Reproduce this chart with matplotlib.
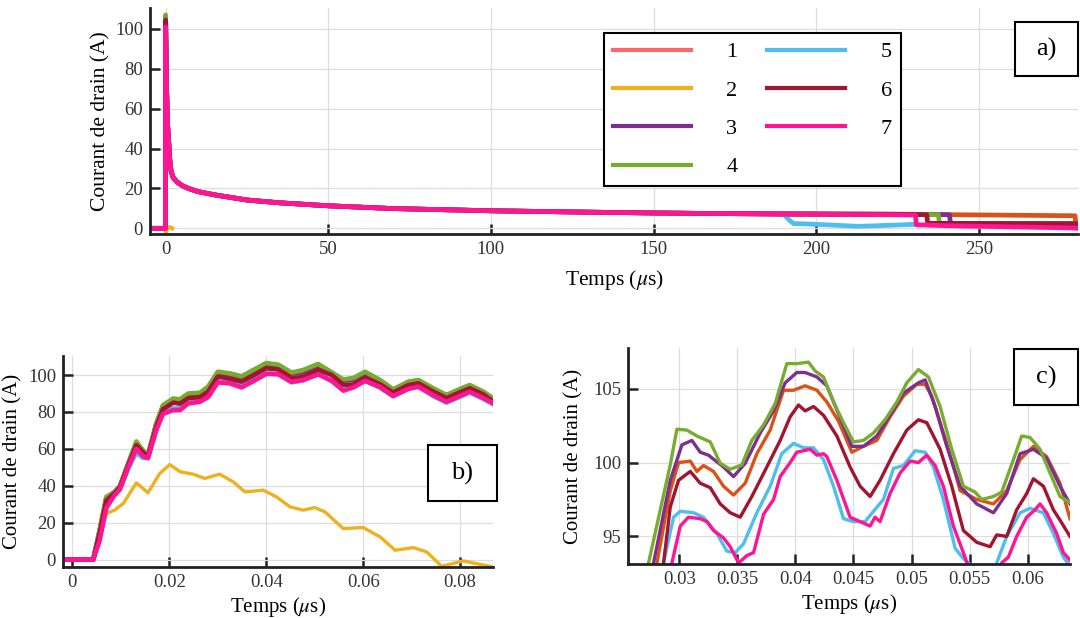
import matplotlib.pyplot as plt
from matplotlib.lines import Line2D
from matplotlib.patches import Rectangle

plt.rcParams['font.family'] = ['Liberation Serif', 'DejaVu Serif']
plt.rcParams['mathtext.fontset'] = 'stix'

names = ['1', '2', '3', '4', '5', '6', '7']
colors = ['#D95319', '#EDB120', '#7E2F8E', '#77AC30', '#4DBEEE', '#A2142F', '#FF1493']
legend_colors = ['#FF6666', '#EDB120', '#7E2F8E', '#77AC30', '#4DBEEE', '#A2142F', '#FF1493']

# ---- a) long pulse, shared decay (us, A) ----
t_a = [-5, -0.05, 0, 0.3, 0.6, 1.0, 1.3, 1.7, 2.3, 3.4, 5, 7, 10, 15, 20, 25, 35, 50, 70, 100, 130, 150, 170, 190]
i_a = [0, 0, 104, 70, 52, 42, 34, 28.5, 25.5, 23.4, 21.5, 20, 18.4, 16.8, 15.5, 14.2, 12.8, 11.3, 9.9, 8.8, 8.1, 7.7, 7.4, 7.2]
peak_a = [104, 0, 105.5, 107, 103, 104.5, 101]

t2_a = [-5, -0.05, 0.1, 0.4, 1.0, 1.6, 2.0]
i2_a = [0, 0, -2.5, 0.3, 0.6, 0.4, 0]

tail1_t = [230, 279.6, 279.9, 282]
tail1_i = [7.0, 6.3, 0, 0]
tail3_t = [230, 241, 241.3, 282]
tail3_i = [7.0, 6.8, 2.5, 2.3]
tail4_t = [230, 237.6, 237.9, 282]
tail4_i = [7.0, 6.8, 2.5, 2.3]
tail5_t = [191.5, 193, 200, 213, 222, 230.5]
tail5_i = [4.5, 2.4, 2.0, 1.0, 1.5, 2.0]
tail6_t = [230, 234, 234.3, 282]
tail6_i = [7.0, 6.8, 2.5, 2.3]
tail7_t = [230.5, 230.8, 240, 282]
tail7_i = [6.7, 1.8, 1.3, 0.1]

# ---- b) turn-on, first 90 ns ----
t_b = [-0.002, 0.0043, 0.0056, 0.007, 0.0087, 0.0098, 0.0115, 0.0132, 0.0146, 0.0156,
       0.0173, 0.0187, 0.0208, 0.0222, 0.0239, 0.0263, 0.028, 0.030, 0.0325, 0.0349,
       0.0373, 0.040, 0.0425, 0.0452, 0.0476, 0.0507, 0.0535, 0.0559, 0.058, 0.0604,
       0.0635, 0.0662, 0.0693, 0.0714, 0.0745, 0.0772, 0.0803, 0.082, 0.0848, 0.0869]
b1 = [0, 0, 15, 33, 36.5, 39.5, 51.5, 63, 58.5, 56.3, 73, 83, 86.5, 86, 89, 89.5, 92.5, 100, 99.6, 97.9,
      101, 105.1, 104.4, 100.8, 101.2, 105.3, 101, 97.3, 97.6, 101, 96.8, 91.8, 95.8, 96.8, 92.3, 88.8, 92.3, 94, 90.5, 86.5]
b3 = [0, 0, 15.5, 33.5, 36.5, 39.8, 51.8, 63.5, 58.8, 56.5, 73.4, 83.3, 86.8, 86.5, 89.5, 90, 93, 101.2, 100.6, 99.1,
      101.9, 106.1, 105.3, 101.1, 101.5, 105.5, 101.2, 97.2, 97.4, 100.8, 97, 92, 96, 97, 92.5, 89, 92.5, 94.2, 90.8, 87]
b4 = [0, 0, 16, 34, 36.7, 40, 52, 64, 59, 56.6, 73.8, 83.7, 87.3, 86.8, 90, 90.4, 93.7, 101.8, 100.9, 99.3,
      102.7, 106.5, 105.6, 101.3, 102.7, 106.0, 101.5, 97.6, 98.4, 101.8, 97.3, 92.2, 96.4, 97.3, 92.8, 89.2, 92.8, 94.6, 91, 87.3]
b5 = [0, 0, 14, 30, 35, 38, 49, 58, 55, 55, 71, 80, 82, 82, 85, 86, 89, 96.6, 95.8, 94.0,
      97.5, 101.2, 100.2, 96.0, 97.0, 100.8, 96.5, 92.5, 94.8, 96.9, 93, 88.5, 92.5, 93.5, 88.5, 85, 88.5, 90.5, 87, 84]
b6 = [0, 0, 14, 32, 36, 39, 51, 62, 58, 56, 72, 81.5, 85, 84.5, 87.5, 88, 91, 99.2, 98.0, 96.4,
      99.7, 103.7, 103.0, 98.5, 98.8, 102.9, 100.0, 94.8, 94.8, 98.5, 95, 90.5, 94.5, 95.5, 91, 87.5, 91, 92.8, 89.5, 85.5]
b7 = [0, 0, 10, 28, 35, 38, 50, 60, 56, 55, 70, 79, 81, 81, 84.6, 85.5, 88, 96.0, 95.5, 93.3,
      96.6, 100.6, 100.5, 96.3, 97.3, 100.3, 97.0, 91.5, 93.3, 96.8, 93.5, 88.6, 92.5, 93.7, 89, 85.5, 89, 91, 87.5, 84.6]
t2_b = [-0.002, 0.0043, 0.0056, 0.007, 0.0087, 0.0105, 0.0132, 0.0156, 0.018, 0.0201,
        0.0222, 0.0249, 0.0273, 0.0304, 0.0332, 0.0356, 0.0394, 0.0421, 0.0449, 0.0476,
        0.05, 0.0521, 0.0559, 0.06, 0.0635, 0.0666, 0.0704, 0.0731, 0.0762, 0.0807, 0.0834, 0.0869]
b2 = [0, 0, 14, 25, 26.8, 30.4, 41.6, 36.2, 46.6, 51.5, 47.6, 46.3, 44, 46.3, 42.1, 36.7,
      37.6, 34, 28.6, 26.8, 28.2, 25.9, 16.8, 17.4, 12.3, 5.1, 6.5, 4.2, -3.6, -0.7, -2.2, -4]

# ---- c) zoom on the plateau ----
c1_t = [0.0278, 0.02808, 0.02923, 0.02994, 0.03095, 0.03152, 0.03209, 0.03295, 0.03381, 0.03467,
        0.03568, 0.03668, 0.03783, 0.03898, 0.03984, 0.04084, 0.04185, 0.04271, 0.04371, 0.04486,
        0.04586, 0.04701, 0.04815, 0.04930, 0.05045, 0.05117, 0.05174, 0.05303, 0.05418, 0.05561,
        0.05705, 0.05819, 0.05934, 0.06049, 0.06163, 0.06278, 0.06364]
c1_i = [92.0, 93.2, 98.1, 100.0, 100.1, 99.4, 99.8, 99.4, 98.4, 97.8, 98.6, 100.6, 102.2, 104.9, 104.9, 105.2,
        104.9, 104.1, 102.8, 100.7, 101.1, 101.5, 103.1, 104.5, 105.3, 105.3, 104.5, 101.3, 98.1, 97.5,
        97.2, 98.1, 100.2, 101.1, 100.4, 98.6, 96.2]
c3_t = [0.0274, 0.02779, 0.02923, 0.03023, 0.03109, 0.03181, 0.03252, 0.03381, 0.03467, 0.03568,
        0.03697, 0.03812, 0.03912, 0.04012, 0.04084, 0.04185, 0.04271, 0.04371, 0.04486, 0.04586,
        0.04701, 0.04815, 0.04930, 0.05059, 0.05117, 0.05203, 0.05303, 0.05418, 0.05561, 0.05705,
        0.05819, 0.05934, 0.06049, 0.06163, 0.06278, 0.06364]
c3_i = [92.0, 93.2, 98.8, 101.2, 101.5, 100.7, 100.5, 99.7, 99.05, 99.95, 102.0, 103.5, 105.4, 106.1, 106.1,
        105.8, 105.2, 103.3, 101.1, 101.1, 101.8, 103.2, 104.7, 105.4, 105.6, 103.8, 101.1, 98.4, 97.2, 96.6,
        97.9, 100.6, 100.9, 100.3, 98.4, 97.2]
c4_t = [0.0270, 0.02736, 0.02837, 0.02923, 0.02980, 0.03066, 0.03152, 0.03267, 0.03353, 0.03439,
        0.03539, 0.03625, 0.03726, 0.03826, 0.03926, 0.04012, 0.04113, 0.04170, 0.04242, 0.04328,
        0.04414, 0.04500, 0.04586, 0.04672, 0.04772, 0.04873, 0.04959, 0.05059, 0.05145, 0.05246,
        0.05346, 0.05446, 0.05547, 0.05604, 0.05705, 0.05776, 0.05877, 0.05948, 0.06020, 0.06106,
        0.06192, 0.06278, 0.06364]
c4_i = [92.0, 93.2, 96.8, 99.85, 102.26, 102.2, 101.8, 101.4, 99.95, 99.55, 99.84, 101.5, 102.55, 104.0,
        106.7, 106.7, 106.8, 106.2, 105.8, 104.1, 102.7, 101.4, 101.5, 102.0, 102.9, 104.1, 105.4, 106.3,
        105.8, 103.8, 100.9, 98.4, 98.0, 97.5, 97.7, 98.0, 100.2, 101.8, 101.7, 100.9, 99.3, 97.7, 97.3]
c5_t = [0.0283, 0.02865, 0.02951, 0.03009, 0.03123, 0.03209, 0.03324, 0.03410, 0.03482, 0.03554,
        0.03668, 0.03783, 0.03883, 0.03984, 0.04070, 0.04156, 0.04242, 0.04328, 0.04414, 0.04500,
        0.04600, 0.04672, 0.04758, 0.04844, 0.04930, 0.05031, 0.05117, 0.05188, 0.05274, 0.05375,
        0.05446, 0.05504, 0.05560, 0.05700, 0.05733, 0.05819, 0.05934, 0.06020, 0.06135, 0.06221,
        0.06307, 0.06364]
c5_i = [92.0, 93.2, 96.3, 96.7, 96.6, 96.3, 95.2, 94.0, 93.9, 94.5, 96.6, 98.4, 100.6, 101.3, 101.0, 101.0,
        100.2, 98.4, 96.2, 96.0, 96.0, 96.7, 97.5, 99.6, 99.8, 100.8, 100.7, 99.7, 97.5, 94.2, 93.5, 93.1,
        92.0, 92.0, 93.2, 95.0, 96.6, 96.9, 96.6, 95.2, 93.6, 93.0]
c6_t = [0.0283, 0.02865, 0.02923, 0.02994, 0.03095, 0.03181, 0.03267, 0.03353, 0.03439, 0.03525,
        0.03625, 0.03754, 0.03869, 0.03955, 0.04027, 0.04084, 0.04156, 0.04242, 0.04357, 0.04471,
        0.04557, 0.04643, 0.04729, 0.04844, 0.04959, 0.05059, 0.05131, 0.05246, 0.05346, 0.05446,
        0.05561, 0.05676, 0.05733, 0.05819, 0.05905, 0.05991, 0.06049, 0.06135, 0.06221, 0.06278, 0.06364]
c6_i = [92.0, 93.2, 97.0, 98.8, 99.4, 98.6, 98.3, 97.2, 96.6, 96.3, 97.7, 99.7, 101.5, 103.1, 103.9, 103.5,
        103.8, 103.2, 101.8, 99.7, 98.4, 97.7, 98.8, 100.6, 102.2, 102.9, 102.7, 100.9, 98.4, 95.4, 94.6,
        94.3, 95.1, 95.0, 96.8, 97.9, 98.9, 98.4, 96.8, 96.1, 95.0]
c7_t = [0.0290, 0.02937, 0.03009, 0.03080, 0.03181, 0.03238, 0.03295, 0.03381, 0.03439, 0.03511,
        0.03582, 0.03640, 0.03726, 0.03812, 0.03869, 0.03955, 0.04012, 0.04127, 0.04185, 0.04242,
        0.04271, 0.04357, 0.04471, 0.04557, 0.04643, 0.04686, 0.04729, 0.04815, 0.04902, 0.04988,
        0.05059, 0.05131, 0.05203, 0.05274, 0.05360, 0.05446, 0.05532, 0.05740, 0.05776, 0.05834,
        0.05905, 0.05991, 0.06063, 0.06106, 0.06163, 0.06249, 0.06307, 0.06364]
c7_i = [92.0, 93.2, 95.7, 96.3, 96.2, 96.0, 95.4, 94.9, 94.3, 93.2, 93.7, 93.9, 96.5, 97.5, 99.05, 100.0,
        100.7, 100.9, 100.5, 100.6, 100.4, 98.8, 96.3, 96.0, 95.7, 96.3, 96.0, 97.9, 99.3, 100.1, 100.0,
        100.5, 99.8, 98.4, 95.7, 93.9, 92.0, 92.0, 93.2, 93.6, 95.0, 96.3, 96.8, 97.2, 96.6, 95.2, 93.9, 93.4]

W, H = 1080, 618
fig = plt.figure(figsize=(W / 100, H / 100), dpi=100)


def px_axes(l, t, r, b):
    return fig.add_axes([l / W, 1 - b / H, (r - l) / W, (b - t) / H])


def style(ax):
    for s in ['top', 'right']:
        ax.spines[s].set_visible(False)
    for s in ['left', 'bottom']:
        ax.spines[s].set_linewidth(2.0)
        ax.spines[s].set_color('#222222')
    ax.tick_params(direction='in', length=7, width=1.8, color='#222222',
                   labelsize=13.5, labelcolor='#333333', pad=5)
    ax.grid(True, color='#dddddd', lw=0.9)
    ax.set_axisbelow(True)


def label_box(cx, cy, w, h, txt):
    fig.add_artist(Rectangle(((cx - w / 2) / W, 1 - (cy + h / 2) / H), w / W, h / H,
                             transform=fig.transFigure, fc='white', ec='black', lw=1.5, zorder=10))
    fig.text(cx / W, 1 - cy / H, txt, ha='center', va='center', fontsize=19, zorder=11)


# a)
ax_a = px_axes(150, 8, 1078, 234)
tails = {0: (tail1_t, tail1_i), 2: (tail3_t, tail3_i), 3: (tail4_t, tail4_i),
         4: (tail5_t, tail5_i), 5: (tail6_t, tail6_i), 6: (tail7_t, tail7_i)}
for k in range(7):
    if k == 1:
        ax_a.plot(t2_a, i2_a, color=colors[k], lw=3)
        continue
    vals = list(i_a)
    vals[2] = peak_a[k]
    tt, ti = tails[k]
    ax_a.plot(list(t_a) + tt, vals + ti, color=colors[k], lw=3.4, solid_joinstyle='round')
ax_a.set_xlim(-4.8, 280.5)
ax_a.set_ylim(-2.85, 110.5)
ax_a.set_xticks([0, 50, 100, 150, 200, 250])
ax_a.set_yticks([0, 20, 40, 60, 80, 100])
style(ax_a)
ax_a.set_xlabel(r'Temps ($\mu$s)', fontsize=15.5, labelpad=7)
ax_a.set_ylabel('Courant de drain (A)', fontsize=15.5, labelpad=3)

handles = [Line2D([], [], color=c, lw=3) for c in legend_colors]
leg = ax_a.legend(handles, names, ncol=2, loc='upper left',
                  bbox_to_anchor=(604 / W, 1 - 33 / H), bbox_transform=fig.transFigure,
                  borderaxespad=0, fontsize=16, frameon=True, fancybox=False, framealpha=1,
                  handlelength=3.5, handletextpad=1.6, columnspacing=1.35,
                  labelspacing=0.8, borderpad=0.4)
leg.get_frame().set_edgecolor('black')
leg.get_frame().set_linewidth(1.5)
label_box(1046.5, 49, 63, 54, 'a)')

# b)
ax_b = px_axes(63, 356, 493, 567)
ax_b.plot(t2_b, b2, color=colors[1], lw=2.4)
for k, v in zip([0, 2, 3, 4, 5, 6], [b1, b3, b4, b5, b6, b7]):
    ax_b.plot(t_b, v, color=colors[k], lw=3.3)
ax_b.set_xlim(-0.00194, 0.0868)
ax_b.set_ylim(-4.0, 110.3)
ax_b.set_xticks([0, 0.02, 0.04, 0.06, 0.08])
ax_b.set_xticklabels(['0', '0.02', '0.04', '0.06', '0.08'])
ax_b.set_yticks([0, 20, 40, 60, 80, 100])
style(ax_b)
ax_b.set_xlabel(r'Temps ($\mu$s)', fontsize=15, labelpad=3)
ax_b.set_ylabel('Courant de drain (A)', fontsize=15, labelpad=4)
label_box(462.5, 473, 69, 56, 'b)')

# c)
ax_c = px_axes(628, 348, 1070, 564)
for k, tt, v in zip([0, 2, 3, 4, 5, 6], [c1_t, c3_t, c4_t, c5_t, c6_t, c7_t],
                    [c1_i, c3_i, c4_i, c5_i, c6_i, c7_i]):
    ax_c.plot(tt, v, color=colors[k], lw=2.4)
ax_c.set_xlim(0.02559, 0.06364)
ax_c.set_ylim(93.13, 107.76)
ax_c.set_xticks([0.03, 0.035, 0.04, 0.045, 0.05, 0.055, 0.06])
ax_c.set_xticklabels(['0.03', '0.035', '0.04', '0.045', '0.05', '0.055', '0.06'])
ax_c.set_yticks([95, 100, 105])
style(ax_c)
ax_c.set_xlabel(r'Temps ($\mu$s)', fontsize=15, labelpad=3)
ax_c.set_ylabel('Courant de drain (A)', fontsize=15, labelpad=7)
label_box(1046, 377, 64, 56, 'c)')

fig.savefig('out.png', dpi=100)
